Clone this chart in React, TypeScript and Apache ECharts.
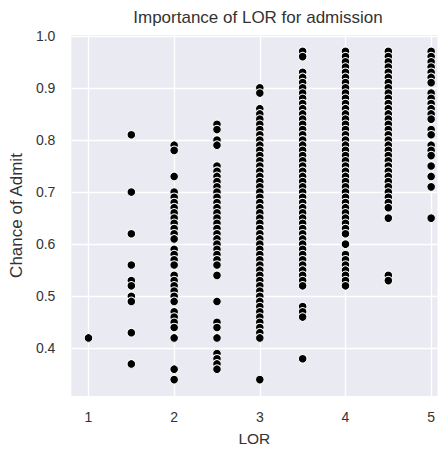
import React, { useEffect, useRef } from "react";
import * as echarts from "echarts";

const chartTitle = "Importance of LOR for admission";
const xAxisTitle = "LOR";
const yAxisTitle = "Chance of Admit";
const xTickValues = [1, 2, 3, 4, 5];
const yTickValues = [0.4, 0.5, 0.6, 0.7, 0.8, 0.9, 1.0];

const lorLevels = [1, 1.5, 2, 2.5, 3, 3.5, 4, 4.5, 5];

const admitLor1 = [0.42];
const admitLor15 = [0.81, 0.7, 0.62, 0.56, 0.53, 0.52, 0.5, 0.49, 0.43, 0.37];
const admitLor2 = [
  0.79, 0.78, 0.73, 0.7, 0.69, 0.68, 0.67, 0.66, 0.65, 0.64, 0.63, 0.62, 0.61,
  0.59, 0.58, 0.57, 0.56, 0.54, 0.53, 0.52, 0.51, 0.5, 0.49, 0.47, 0.46, 0.45,
  0.44, 0.42, 0.36, 0.34,
];
const admitLor25 = [
  0.83, 0.82, 0.8, 0.79, 0.75, 0.74, 0.73, 0.72, 0.71, 0.7, 0.69, 0.68, 0.67,
  0.66, 0.65, 0.64, 0.63, 0.62, 0.61, 0.6, 0.59, 0.58, 0.57, 0.56, 0.54, 0.49,
  0.45, 0.44, 0.42, 0.39, 0.38, 0.37, 0.36,
];
const admitLor3 = [
  0.9, 0.89, 0.86, 0.85, 0.84, 0.83, 0.82, 0.81, 0.8, 0.79, 0.78, 0.77, 0.76,
  0.75, 0.74, 0.73, 0.72, 0.71, 0.7, 0.69, 0.68, 0.67, 0.66, 0.65, 0.64, 0.63,
  0.62, 0.61, 0.6, 0.59, 0.58, 0.57, 0.56, 0.55, 0.54, 0.53, 0.52, 0.51, 0.5,
  0.49, 0.48, 0.47, 0.46, 0.45, 0.44, 0.43, 0.42, 0.34,
];
const admitLor35 = [
  0.97, 0.96, 0.93, 0.92, 0.91, 0.9, 0.89, 0.88, 0.87, 0.86, 0.85, 0.84, 0.83,
  0.82, 0.81, 0.8, 0.79, 0.78, 0.77, 0.76, 0.75, 0.74, 0.73, 0.72, 0.71, 0.7,
  0.69, 0.68, 0.67, 0.66, 0.65, 0.64, 0.63, 0.62, 0.61, 0.6, 0.59, 0.58, 0.57,
  0.56, 0.55, 0.54, 0.53, 0.52, 0.48, 0.47, 0.46, 0.38,
];
const admitLor4 = [
  0.97, 0.96, 0.95, 0.94, 0.93, 0.92, 0.91, 0.9, 0.89, 0.88, 0.87, 0.86, 0.85,
  0.84, 0.83, 0.82, 0.81, 0.8, 0.79, 0.78, 0.77, 0.76, 0.75, 0.74, 0.73, 0.72,
  0.71, 0.7, 0.69, 0.68, 0.67, 0.66, 0.65, 0.64, 0.63, 0.62, 0.6, 0.58, 0.57,
  0.56, 0.55, 0.54, 0.53, 0.52,
];
const admitLor45 = [
  0.97, 0.96, 0.95, 0.94, 0.93, 0.92, 0.91, 0.9, 0.89, 0.88, 0.87, 0.86, 0.85,
  0.84, 0.83, 0.82, 0.81, 0.8, 0.79, 0.78, 0.77, 0.76, 0.75, 0.74, 0.73, 0.72,
  0.71, 0.7, 0.69, 0.68, 0.67, 0.65, 0.54, 0.53,
];
const admitLor5 = [
  0.97, 0.96, 0.95, 0.94, 0.93, 0.92, 0.91, 0.89, 0.88, 0.87, 0.86, 0.85, 0.84,
  0.82, 0.81, 0.79, 0.78, 0.77, 0.75, 0.73, 0.71, 0.65,
];

const admitByLevel = [
  admitLor1,
  admitLor15,
  admitLor2,
  admitLor25,
  admitLor3,
  admitLor35,
  admitLor4,
  admitLor45,
  admitLor5,
];

const FONT = "'Liberation Sans', Arial, sans-serif";
const TEXT = "#333333";

export default function App() {
  const ref = useRef<HTMLDivElement>(null);

  useEffect(() => {
    if (!ref.current) return;
    const chart = echarts.init(ref.current, undefined, { renderer: "svg" });

    const points: number[][] = [];
    lorLevels.forEach((lor, i) => {
      admitByLevel[i].forEach((v) => points.push([lor, v]));
    });

    chart.setOption({
      animation: false,
      backgroundColor: "#ffffff",
      title: {
        text: chartTitle,
        left: 258,
        top: 9,
        padding: 0,
        textAlign: "center",
        textStyle: {
          fontFamily: FONT,
          fontSize: 17,
          fontWeight: "normal",
          color: TEXT,
        },
      },
      grid: {
        left: 69,
        right: 0,
        top: 35,
        bottom: 49,
        show: true,
        backgroundColor: "#EAEAF2",
        borderWidth: 0,
      },
      xAxis: {
        type: "value",
        min: 0.8,
        max: 5.073,
        name: xAxisTitle,
        nameLocation: "middle",
        nameGap: 34,
        nameTextStyle: { fontFamily: FONT, fontSize: 15.5, color: TEXT },
        axisLine: { show: false },
        axisTick: { show: false, customValues: xTickValues },
        axisLabel: {
          customValues: xTickValues,
          fontFamily: FONT,
          fontSize: 14,
          color: TEXT,
          margin: 14,
          formatter: (v: number) => String(v),
        },
        splitLine: { show: true, lineStyle: { color: "#ffffff", width: 1.3 } },
      },
      yAxis: {
        type: "value",
        min: 0.3085,
        max: 1.0015,
        name: yAxisTitle,
        nameLocation: "middle",
        nameGap: 44,
        nameRotate: 90,
        nameTextStyle: { fontFamily: FONT, fontSize: 17, color: TEXT },
        axisLine: { show: false },
        axisTick: { show: false, customValues: yTickValues },
        axisLabel: {
          customValues: yTickValues,
          fontFamily: FONT,
          fontSize: 14,
          color: TEXT,
          margin: 16,
          formatter: (v: number) => v.toFixed(1),
        },
        splitLine: { show: true, lineStyle: { color: "#ffffff", width: 1.3 } },
      },
      series: [
        {
          type: "scatter",
          data: points,
          symbol: "circle",
          symbolSize: 8.6,
          itemStyle: {
            color: "#000000",
            borderColor: "#ffffff",
            borderWidth: 1,
            opacity: 1,
          },
          emphasis: { disabled: true },
        },
      ],
    });

    return () => chart.dispose();
  }, []);

  return (
    <div
      ref={ref}
      style={{ position: "absolute", left: 0, top: 0, width: 438, height: 451 }}
    />
  );
}
